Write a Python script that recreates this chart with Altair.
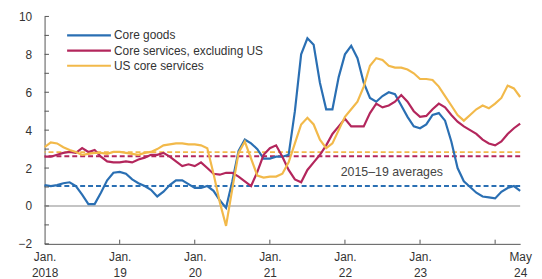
import altair as alt
import pandas as pd

# ---- data (monthly, Jan 2018 .. May 2024; x = months since Jan 2018) ----
series_names = ["Core goods", "Core services, excluding US", "US core services"]
series_colors = ["#2a6fb3", "#b3265c", "#f2b94a"]

core_goods = [1.1, 1.05, 1.1, 1.2, 1.25, 1.05, 0.6, 0.1, 0.1, 0.7,
              1.35, 1.75, 1.8, 1.7, 1.4, 1.2, 1.05, 0.85, 0.5, 0.75,
              1.1, 1.35, 1.35, 1.15, 0.95, 0.95, 1.05, 0.8, 0.3, -0.1,
              1.3, 2.9, 3.5, 3.3, 3.0, 2.5, 2.5, 2.6, 2.6, 2.7,
              5.0, 8.0, 8.85, 8.5, 6.5, 5.1, 5.1, 6.8, 8.0, 8.45,
              7.8, 6.5, 5.7, 5.5, 5.8, 6.0, 5.9, 5.3, 4.7, 4.2,
              4.1, 4.3, 4.8, 4.9, 4.5, 3.4, 2.0, 1.3, 1.0, 0.7,
              0.5, 0.45, 0.4, 0.75, 0.95, 1.05, 0.8]
core_services_ex_us = [2.6, 2.6, 2.7, 2.8, 2.85, 2.8, 3.05, 2.85, 2.95, 2.6,
                       2.35, 2.3, 2.3, 2.35, 2.3, 2.45, 2.55, 2.7, 2.7, 2.8,
                       2.6, 2.35, 2.1, 2.2, 2.1, 2.3, 2.0, 1.7, 1.65, 1.75,
                       1.75, 1.55, 1.3, 1.05, 1.8, 2.7, 3.05, 3.2, 2.6, 1.9,
                       1.4, 1.25, 1.9, 2.3, 2.7, 3.2, 3.8, 4.2, 4.6, 4.2,
                       4.2, 4.2, 4.9, 5.4, 5.2, 5.3, 5.5, 5.85, 5.5, 5.0,
                       4.7, 4.75, 5.1, 5.4, 5.2, 4.8, 4.45, 4.2, 4.0, 3.8,
                       3.5, 3.3, 3.2, 3.4, 3.8, 4.1, 4.35]
us_core_services = [3.1, 3.35, 3.3, 3.1, 2.95, 2.85, 2.7, 2.75, 2.8, 2.8,
                    2.75, 2.85, 2.85, 2.8, 2.75, 2.7, 2.8, 2.85, 3.0, 3.2,
                    3.25, 3.3, 3.3, 3.25, 3.25, 3.2, 3.05, 1.7, 0.2, -1.05,
                    0.9, 2.8, 3.4, 2.5, 1.6, 1.5, 1.55, 1.55, 1.7, 2.3,
                    3.3, 4.3, 4.65, 4.3, 3.5, 3.05, 3.3, 4.0, 4.7, 5.1,
                    5.5, 6.3, 7.4, 7.8, 7.7, 7.4, 7.3, 7.3, 7.2, 7.0,
                    6.7, 6.7, 6.65, 6.3, 5.8, 5.3, 4.8, 4.5, 4.8, 5.1,
                    5.3, 5.15, 5.4, 5.7, 6.35, 6.2, 5.75]
months = list(range(len(core_goods)))

averages_2015_19 = [1.05, 2.62, 2.84]

x_tick_values = [0, 12, 24, 36, 48, 60, 72, 76]
x_label_top = ["Jan.", "Jan.", "Jan.", "Jan.", "Jan.", "Jan.", "", "May"]
x_label_bottom = ["2018", "19", "20", "21", "22", "23", "", "24"]
x_tick_marks = [12, 24, 36, 48, 60, 72]
y_label_values = [-2, 0, 2, 4, 6, 8, 10]
y_tick_marks = list(range(-2, 11))

annotation_text = "2015\u201319 averages"
annotation_pos = (55.5, 1.77)

legend_y = [9.0, 8.2, 7.4]
legend_x = (3.6, 10.6, 11.1)

FONT = "Liberation Sans"

# ---- tables ----
lines_df = pd.concat([
    pd.DataFrame({"month": months, "value": vals, "series": name, "order": i})
    for i, (name, vals) in enumerate(zip(series_names,
                                         [core_goods, core_services_ex_us, us_core_services]))
])
avg_df = pd.DataFrame({"series": series_names, "avg": averages_2015_19})
legend_df = pd.DataFrame({"series": series_names, "y": legend_y,
                          "x1": legend_x[0], "x2": legend_x[1], "xt": legend_x[2]})

color_scale = alt.Scale(domain=series_names, range=series_colors)

label_expr = "''"
for v, a, b in reversed(list(zip(x_tick_values, x_label_top, x_label_bottom))):
    lab = f"['{a}', '{b}']" if a else "''"
    label_expr = f"datum.value == {v} ? {lab} : ({label_expr})"

x_scale = alt.Scale(domain=[0, 76], nice=False, zero=False)
y_scale = alt.Scale(domain=[-2, 10], nice=False)

x_axis = alt.Axis(values=x_tick_values, labelExpr=label_expr, ticks=False, tickSize=0,
                  grid=False, labelPadding=8, labelLineHeight=16, labelFlush=False,
                  labelOverlap=False, labelBaseline="top", title=None,
                  domainColor="#555", domainWidth=1)
y_axis = alt.Axis(values=y_label_values, ticks=False, tickSize=0, grid=False,
                  labelPadding=13, labelOverlap=False, labelFlush=False, title=None,
                  domainColor="#555", domainWidth=1)

base = alt.Chart(lines_df)

zero_line = alt.Chart(pd.DataFrame({"y": [0]})).mark_rule(
    color="#b0b0b0", strokeWidth=1.6).encode(y=alt.Y("y:Q", scale=y_scale, axis=y_axis))

avg_lines = alt.Chart(avg_df).mark_rule(strokeWidth=2, strokeDash=[5, 3]).encode(
    y=alt.Y("avg:Q", scale=y_scale, axis=y_axis),
    color=alt.Color("series:N", scale=color_scale, legend=None))

series_layers = []
for name in series_names:
    series_layers.append(
        base.transform_filter(alt.datum.series == name).mark_line(strokeWidth=2.2).encode(
            x=alt.X("month:Q", scale=x_scale, axis=x_axis),
            y=alt.Y("value:Q", scale=y_scale, axis=y_axis),
            color=alt.Color("series:N", scale=color_scale, legend=None)))

annotation = alt.Chart(pd.DataFrame({"x": [annotation_pos[0]], "y": [annotation_pos[1]],
                                     "t": [annotation_text]})).mark_text(
    font=FONT, fontSize=12.5, color="#444", align="center", baseline="middle").encode(
    x=alt.X("x:Q", scale=x_scale, axis=x_axis), y=alt.Y("y:Q", scale=y_scale, axis=y_axis),
    text="t:N")

legend_lines = alt.Chart(legend_df).mark_rule(strokeWidth=2.2).encode(
    x=alt.X("x1:Q", scale=x_scale, axis=x_axis), x2="x2:Q",
    y=alt.Y("y:Q", scale=y_scale, axis=y_axis),
    color=alt.Color("series:N", scale=color_scale, legend=None))
legend_text = alt.Chart(legend_df).mark_text(
    font=FONT, fontSize=12, color="#333", align="left", baseline="middle").encode(
    x=alt.X("xt:Q", scale=x_scale, axis=x_axis), y=alt.Y("y:Q", scale=y_scale, axis=y_axis),
    text="series:N")

y_ticks = alt.Chart(pd.DataFrame({"y": y_tick_marks, "x1": 0.0, "x2": 0.7})).mark_rule(
    color="#555", strokeWidth=1).encode(
    x=alt.X("x1:Q", scale=x_scale, axis=x_axis), x2="x2:Q",
    y=alt.Y("y:Q", scale=y_scale, axis=y_axis))
x_ticks = alt.Chart(pd.DataFrame({"x": x_tick_marks, "y1": -2.0, "y2": -1.78})).mark_rule(
    color="#555", strokeWidth=1).encode(
    x=alt.X("x:Q", scale=x_scale, axis=x_axis), y=alt.Y("y1:Q", scale=y_scale, axis=y_axis),
    y2="y2:Q")

chart = alt.layer(
    zero_line, avg_lines, *series_layers, annotation, legend_lines, legend_text,
    y_ticks, x_ticks
).properties(
    width=481, height=230,
    padding={"left": 37, "top": 7, "right": 14, "bottom": 34},
    autosize=alt.AutoSizeParams(type="none"),
).configure_view(stroke=None).configure_axis(
    labelFont=FONT, labelFontSize=12, labelColor="#333"
)

chart.save("out.html", embed_options={"renderer": "svg", "actions": False})
